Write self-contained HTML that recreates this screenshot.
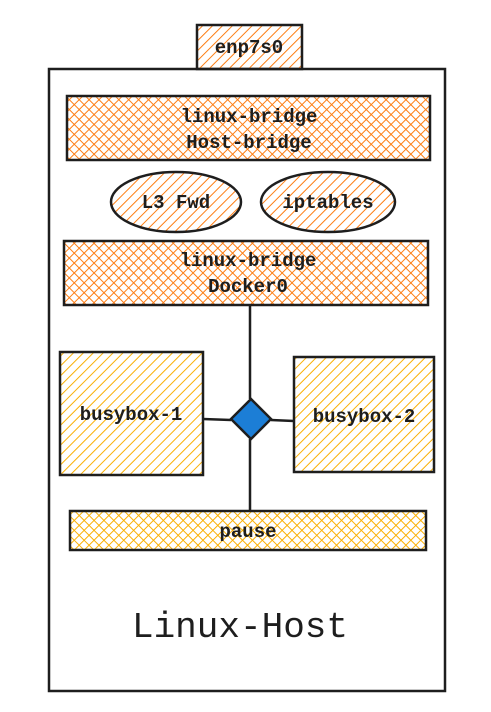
<!DOCTYPE html>
<html><head><meta charset="utf-8"><style>
html,body{margin:0;padding:0;background:#fff;}
svg{display:block;}
text{font-family:"Liberation Mono","DejaVu Sans Mono",monospace;fill:#1e1e1e;}
</style></head><body>
<svg width="491" height="712" viewBox="0 0 491 712" xmlns="http://www.w3.org/2000/svg">
<defs>
<pattern id="ho" width="7" height="7" patternUnits="userSpaceOnUse" patternTransform="rotate(45)">
<line x1="0" y1="0" x2="0" y2="7" stroke="#fd7e14" stroke-width="2"/></pattern>
<pattern id="xo" width="7" height="7" patternUnits="userSpaceOnUse" patternTransform="rotate(45)">
<line x1="0" y1="0" x2="0" y2="7" stroke="#fd7e14" stroke-width="2"/>
<line x1="0" y1="0" x2="7" y2="0" stroke="#fd7e14" stroke-width="2"/></pattern>
<pattern id="hy" width="7" height="7" patternUnits="userSpaceOnUse" patternTransform="rotate(45)">
<line x1="0" y1="0" x2="0" y2="7" stroke="#fab005" stroke-width="2"/></pattern>
<pattern id="xy" width="7" height="7" patternUnits="userSpaceOnUse" patternTransform="rotate(45)">
<line x1="0" y1="0" x2="0" y2="7" stroke="#fab005" stroke-width="2"/>
<line x1="0" y1="0" x2="7" y2="0" stroke="#fab005" stroke-width="2"/></pattern>
</defs>
<g stroke="#1e1e1e" stroke-width="2.5" fill="none">
<rect x="49" y="69" width="396" height="622"/>
<rect x="197" y="25" width="105" height="44" fill="url(#ho)"/>
<rect x="67" y="96" width="363" height="64" fill="url(#xo)"/>
<ellipse cx="176" cy="202" rx="65" ry="30" fill="url(#ho)"/>
<ellipse cx="328" cy="202" rx="67" ry="30" fill="url(#ho)"/>
<rect x="64" y="241" width="364" height="64" fill="url(#xo)"/>
<rect x="60" y="352" width="143" height="123" fill="url(#hy)"/>
<rect x="294" y="357" width="140" height="115" fill="url(#hy)"/>
<rect x="70" y="511" width="356" height="39" fill="url(#xy)"/>
<line x1="250" y1="305" x2="250" y2="399"/>
<line x1="250" y1="439" x2="250" y2="511"/>
<line x1="203" y1="419" x2="231" y2="420"/>
<line x1="271" y1="420" x2="294" y2="421"/>
<path d="M251 399 L271 419 L251 439 L231 419 Z" fill="#1c7ed6"/>
</g>
<g font-size="19" font-weight="bold" text-anchor="middle">
<text x="249" y="53">enp7s0</text>
<text x="249" y="122">linux-bridge</text>
<text x="249" y="148">Host-bridge</text>
<text x="176" y="208">L3 Fwd</text>
<text x="328" y="208">iptables</text>
<text x="248" y="266">linux-bridge</text>
<text x="248" y="292">Docker0</text>
<text x="131" y="420">busybox-1</text>
<text x="364" y="422">busybox-2</text>
<text x="248" y="537">pause</text>
</g>
<text x="240" y="637" font-size="36" text-anchor="middle">Linux-Host</text>
</svg>
</body></html>
